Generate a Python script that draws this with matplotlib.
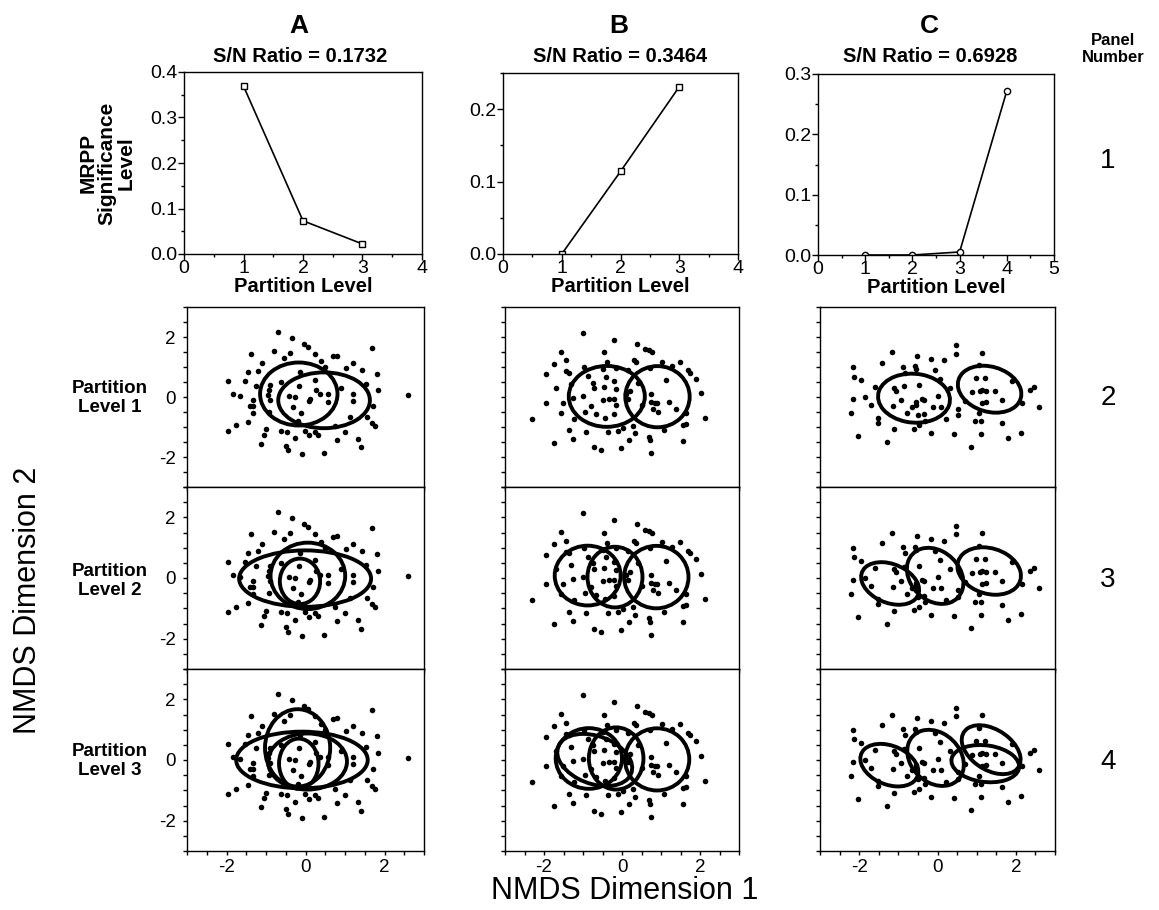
import matplotlib
matplotlib.use("Agg")
import matplotlib.pyplot as plt
from matplotlib.patches import Ellipse
from matplotlib.ticker import MultipleLocator, FormatStrFormatter

plt.rcParams["font.family"] = ["Liberation Sans", "DejaVu Sans"]
plt.rcParams["axes.unicode_minus"] = False

# ---- panel 1: MRPP significance vs partition level ----
level_a = [1, 2, 3]
mrpp_a = [0.369, 0.073, 0.022]
level_b = [1, 2, 3]
mrpp_b = [0.0, 0.114, 0.231]
level_c = [1, 2, 3, 4]
mrpp_c = [0.0, 0.0, 0.005, 0.272]
sn_ratios = ["0.1732", "0.3464", "0.6928"]
col_letters = ["A", "B", "C"]

# ---- NMDS ordination points (same points in every row of a column) ----
pts_a_x = [-0.70, -0.35, -0.04, 0.07, 1.69, -1.39, -0.79, -0.39, 0.24, -0.54, 0.70, 0.81,
           0.38, -1.10, 1.21, 0.50, 1.03, -1.45, -1.19, 1.43, 1.82, -1.97, -1.54, -1.26,
           -0.14, -0.61, -0.17, -0.91, -0.93, 0.24, 0.27, 0.90, 1.53, 1.83, -1.84, -1.66,
           -1.33, -0.91, -0.42, -0.27, 0.08, 0.12, 0.37, 0.58, 0.58, 1.21, 1.21, 2.60,
           -1.40, -1.34, -1.33, -0.31, -0.12, 1.70, 1.55, 1.13, -0.19, -1.46, -1.75, -1.96,
           1.68, 1.76, -1.01, -1.05, -0.61, -0.48, -0.02, 0.09, 0.24, 0.32, -0.27, 1.01,
           0.79, 1.32, -1.12, -0.49, -0.45, 1.40, -0.10, 0.48, 0.75, -0.92, -0.96]
pts_a_y = [2.17, 1.97, 1.77, 1.67, 1.64, 1.44, 1.52, 1.47, 1.44, 1.30, 1.36, 1.38,
           1.19, 1.13, 1.13, 0.99, 0.97, 0.82, 0.88, 0.89, 0.78, 0.54, 0.52, 0.38,
           0.84, 0.51, 0.38, 0.41, 0.24, 0.58, 0.24, 0.30, 0.44, 0.22, 0.11, 0.04,
           -0.09, -0.09, 0.02, -0.01, -0.12, -0.06, 0.10, 0.11, -0.18, 0.09, -0.14, 0.07,
           -0.29, -0.31, -0.53, -0.32, -0.52, -0.29, -0.67, -0.67, -0.79, -0.83, -0.94, -1.12,
           -0.87, -0.96, -1.08, -1.26, -1.12, -1.17, -1.12, -1.28, -1.17, -1.26, -1.37, -1.17,
           -1.42, -1.40, -1.56, -1.62, -1.77, -1.67, -1.91, -1.88, -0.96, -0.49, 0.08]

pts_b_x = [-0.99, -0.21, 0.38, 0.58, 0.69, 0.77, -1.56, -0.45, -1.75, -1.43, -0.38, 0.31,
           0.35, 1.03, 1.48, 1.29, -1.96, -1.43, -1.35, -0.98, -0.49, -0.15, 0.15, 1.68,
           1.74, 1.91, -0.87, -0.42, -0.75, -0.72, -0.46, -0.21, -0.15, -1.69, 0.41, 1.12,
           2.02, -0.99, -0.48, -0.33, -0.21, -0.15, -1.94, -1.52, -1.26, -0.79, -0.96, -0.67,
           -0.43, -0.21, -1.56, -1.23, -2.31, 0.74, 0.75, 0.84, 0.91, 0.80, 0.93, 0.50,
           1.20, 1.38, 1.65, 2.13, 0.15, 0.10, 0.20, -1.37, -0.92, -0.36, -0.10, 0.03,
           0.28, 0.33, 1.08, 1.57, 1.63, -1.25, -1.75, 0.18, 0.69, 0.72, 1.57, -0.72,
           -0.55, -0.02, 0.75, -1.32, 0.71]
pts_b_y = [2.13, 1.90, 1.78, 1.59, 1.56, 1.50, 1.51, 1.50, 1.11, 1.22, 1.17, 1.23,
           1.17, 1.18, 1.18, 1.03, 0.76, 0.87, 0.81, 1.00, 0.92, 0.98, 0.89, 0.90,
           0.81, 0.61, 0.70, 0.68, 0.48, 0.30, 0.33, 0.53, 0.26, 0.29, 0.48, 0.56,
           0.14, 0.03, -0.10, -0.08, -0.06, -0.28, -0.19, -0.19, -0.02, -0.30, -0.50, -0.56,
           -0.69, -0.58, -0.52, -0.74, -0.74, 0.09, -0.17, -0.19, -0.21, -0.41, -0.50, -0.28,
           -0.16, -0.41, -0.52, -0.69, -0.05, 0.10, 0.20, -1.11, -1.16, -1.17, -1.13, -1.02,
           -0.97, -1.21, -1.11, -0.92, -0.89, -1.41, -1.53, -1.44, -1.33, -1.44, -1.46, -1.67,
           -1.78, -1.71, -1.87, 0.43, 0.98]

pts_c_x = [0.48, 0.48, 1.14, -1.17, -0.53, -0.17, 0.17, -1.41, -2.16, -2.12, -1.95, -0.88,
           -0.83, -0.58, -0.56, -0.07, 0.07, -1.59, -1.11, -1.07, -0.86, -0.47, 0.32, -1.84,
           -2.17, -1.69, -2.20, -0.93, -0.56, -0.39, -0.34, -1.13, -0.66, -0.56, -0.11, 0.09,
           0.01, -0.77, -0.51, -0.34, -1.53, -1.53, -1.11, -0.61, -0.47, 0.21, -0.17, -1.30,
           -2.03, 0.41, 0.53, 0.53, 1.14, 0.71, 1.14, 0.99, 1.21, 0.87, 1.09, 1.24,
           1.47, 1.24, 1.65, 1.07, 0.95, 1.11, 1.64, 1.10, 1.81, 2.12, 0.86, 1.89,
           2.37, 2.46, 2.60, 2.16, 1.07, -0.31]
pts_c_y = [1.73, 1.44, 1.48, 1.50, 1.37, 1.28, 1.23, 1.14, 0.99, 0.68, 0.56, 1.01,
           0.81, 1.03, 0.92, 0.89, 0.59, 0.34, 0.31, 0.20, 0.37, 0.39, 0.31, 0.01,
           -0.08, -0.28, -0.54, -0.10, -0.16, -0.08, -0.10, -0.30, -0.32, -0.28, -0.33, -0.32,
           0.03, -0.52, -0.61, -0.58, -0.70, -0.86, -1.08, -1.06, -0.94, -0.74, -1.21, -1.50,
           -1.30, -1.24, -0.41, -0.61, 0.23, -0.14, -0.19, 0.62, 0.62, 0.16, 0.20, 0.20,
           0.20, -0.17, -0.11, -0.52, -0.80, -0.80, -0.88, -1.22, -1.37, -1.19, -1.66, 0.53,
           0.22, 0.34, -0.32, -0.19, 1.07, -0.80]

# ---- cluster ellipses: (centre x, centre y, width, height, angle) per panel ----
ell_a2 = [(-0.17, 0.10, 1.96, 2.10, 0), (0.47, -0.11, 2.32, 1.86, 0)]
ell_a3 = [(-0.01, -0.02, 3.34, 1.86, 0), (0.06, 0.07, 1.89, 2.19, 0), (-0.14, -0.11, 1.02, 1.50, 0)]
ell_a4 = [(-0.09, 0.0, 3.33, 1.87, 0), (-0.20, 0.40, 1.65, 2.55, 0),
          (0.05, -0.05, 2.0, 1.85, 0), (-0.17, -0.12, 1.0, 1.65, 0)]
ell_b2 = [(-0.39, 0.02, 1.95, 2.03, 0), (0.91, 0.01, 1.65, 2.04, 0)]
ell_b3 = [(-0.88, 0.08, 1.69, 1.97, 0), (-0.18, 0.03, 1.41, 2.0, 0), (0.88, 0.03, 1.65, 2.06, 0)]
ell_b4 = [(-0.85, 0.05, 1.70, 2.0, 0), (-0.70, 0.0, 2.1, 1.5, -35),
          (-0.15, 0.05, 1.40, 2.05, 0), (0.90, 0.02, 1.65, 2.05, 0)]
ell_c2 = [(-0.60, -0.04, 1.85, 1.62, -15), (1.33, 0.26, 1.75, 1.42, -40)]
ell_c3 = [(-1.21, -0.18, 1.65, 1.2, -40), (-0.06, 0.07, 1.35, 1.92, 22), (1.32, 0.23, 1.75, 1.42, -40)]
ell_c4 = [(-1.23, -0.17, 1.65, 1.2, -40), (-0.05, 0.07, 1.35, 1.92, 22),
          (1.22, -0.12, 1.75, 1.2, -12), (1.37, 0.34, 1.85, 1.2, -50)]

W, H = 1159, 910


def box(left, top, right, bottom):
    return [left / W, 1 - bottom / H, (right - left) / W, (bottom - top) / H]


fig = plt.figure(figsize=(W / 100, H / 100), dpi=100)

# top row
top_boxes = [(184, 72, 422, 254), (503, 73, 738, 254), (818, 74, 1054, 255)]
top_series = [(level_a, mrpp_a, "s", 4, 0.4, 0.1), (level_b, mrpp_b, "s", 4, 0.25, 0.1),
              (level_c, mrpp_c, "o", 5, 0.3, 0.1)]
for bx, (lx, ly, mk, xmax, ymax, ystep) in zip(top_boxes, top_series):
    ax = fig.add_axes(box(*bx))
    ax.plot(lx, ly, color="black", lw=1.2, marker=mk, ms=4.5, mfc="white", mec="black", mew=1.0)
    ax.set_xlim(0, xmax)
    ax.set_ylim(0, ymax)
    ax.xaxis.set_major_locator(MultipleLocator(1))
    ax.xaxis.set_minor_locator(MultipleLocator(0.5))
    ax.yaxis.set_major_locator(MultipleLocator(ystep))
    ax.yaxis.set_minor_locator(MultipleLocator(0.05))
    ax.yaxis.set_major_formatter(FormatStrFormatter("%.1f"))
    ax.tick_params(which="both", direction="out", labelsize=14, pad=1, width=1)
    ax.tick_params(axis="x", pad=0)
    ax.tick_params(which="major", length=4)
    ax.tick_params(which="minor", length=2)
    ax.set_xlabel("Partition Level", fontsize=14.5, fontweight="bold", labelpad=0)
    for s in ax.spines.values():
        s.set_linewidth(1.0)

# scatter grid
col_x = [(187, 424), (505, 739), (820, 1055)]
row_y = [(307, 487), (487, 669), (669, 851)]
point_sets = [(pts_a_x, pts_a_y), (pts_b_x, pts_b_y), (pts_c_x, pts_c_y)]
ellipse_sets = [[ell_a2, ell_a3, ell_a4], [ell_b2, ell_b3, ell_b4], [ell_c2, ell_c3, ell_c4]]

for ci, (cl, cr) in enumerate(col_x):
    px, py = point_sets[ci]
    for ri, (rt, rb) in enumerate(row_y):
        ax = fig.add_axes(box(cl, rt, cr, rb))
        ax.scatter(px, py, s=16, color="black", linewidths=0, zorder=3)
        for (ex, ey, ew, eh, ea) in ellipse_sets[ci][ri]:
            ax.add_patch(Ellipse((ex, ey), ew, eh, angle=ea, fill=False,
                                 lw=2.8, ec="black", zorder=4))
        ax.set_xlim(-3, 3)
        ax.set_ylim(-3, 3)
        ax.set_xticks([-2, 0, 2])
        ax.set_yticks([-2, 0, 2])
        ax.xaxis.set_minor_locator(MultipleLocator(0.5))
        ax.yaxis.set_minor_locator(MultipleLocator(0.5))
        ax.tick_params(which="both", direction="out", length=3, width=1, labelsize=13.5)
        ax.tick_params(axis="x", pad=3)
        ax.tick_params(axis="y", pad=5)
        if ri < 2:
            ax.tick_params(axis="x", labelbottom=False)
        if ci > 0:
            ax.tick_params(axis="y", labelleft=False)
        for s in ax.spines.values():
            s.set_linewidth(1.0)

# column letters and S/N titles
for x, letter, sn in zip([299, 619, 929], col_letters, sn_ratios):
    fig.text(x / W, 1 - 26 / H, letter, fontsize=19, fontweight="bold", ha="center", va="center")
    fig.text((x + 1) / W, 1 - 57 / H, f"S/N Ratio = {sn}", fontsize=14.5, fontweight="bold",
             ha="center", va="center")

fig.text(107 / W, 1 - 163 / H, "MRPP\nSignificance\nLevel", rotation=90, fontsize=15,
         fontweight="bold", ha="center", va="center", multialignment="center", linespacing=1.0)

for y, lvl in zip([398, 581, 761], [1, 2, 3]):
    fig.text(110 / W, 1 - y / H, f"Partition\nLevel {lvl}", fontsize=13.5, fontweight="bold",
             ha="center", va="center", multialignment="center", linespacing=1.1)

fig.text(1113 / W, 1 - 49 / H, "Panel\nNumber", fontsize=12, fontweight="bold",
         ha="center", va="center", multialignment="center", linespacing=1.1)
for y, num in zip([161, 398, 580, 762], ["1", "2", "3", "4"]):
    fig.text(1108 / W, 1 - y / H, num, fontsize=20, ha="center", va="center")

fig.text(28 / W, 1 - 600 / H, "NMDS Dimension 2", rotation=90, fontsize=22, ha="center", va="center")
fig.text(625 / W, 1 - 899 / H, "NMDS Dimension 1", fontsize=22, ha="center", va="baseline")

fig.savefig("out.png", dpi=100)
